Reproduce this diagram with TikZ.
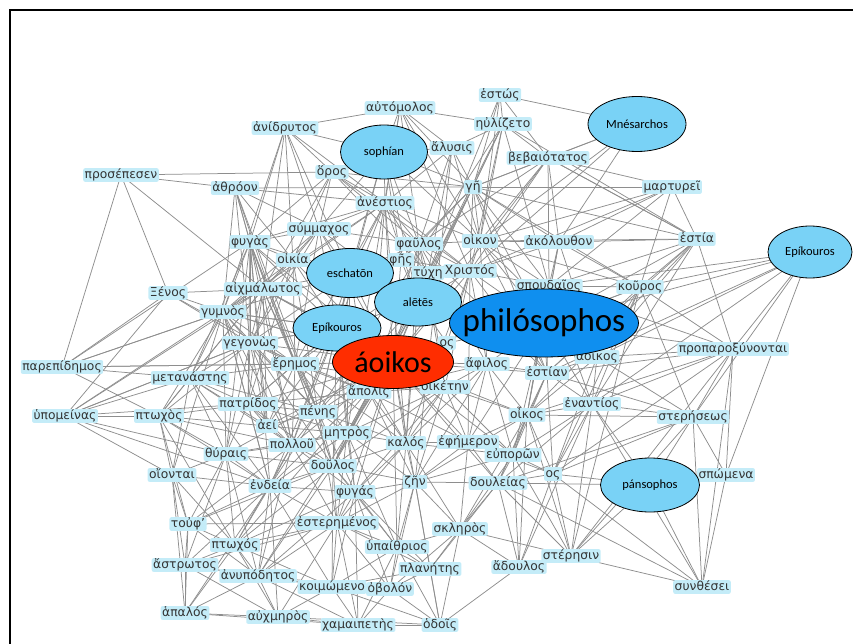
\documentclass[tikz,border=0pt]{standalone}
\usepackage{fontspec}
\setmainfont{DejaVu Sans}
\newfontfamily\ellfont{Carlito}
\usetikzlibrary{shapes.geometric}
\definecolor{wordfill}{HTML}{C4ECF8}
\definecolor{wordtext}{HTML}{333333}
\definecolor{linkgray}{HTML}{8E8E8E}
\definecolor{skyblue}{HTML}{79D2F6}
\definecolor{deepblue}{HTML}{0F8FEF}
\definecolor{redorange}{HTML}{FF2D00}
\pgfdeclarelayer{bg}
\pgfsetlayers{bg,main}

\tikzset{
  word/.style={fill=wordfill, text=wordtext, rounded corners=2pt,
    inner xsep=1.5pt, inner ysep=1pt, text height=9pt, text depth=2.8pt,
    font=\fontsize{12.3}{13}\selectfont},
  concept/.style={ellipse, draw=black, line width=0.8pt, fill=skyblue,
    inner sep=0pt, font=\ellfont\fontsize{12.5}{14}\selectfont},
  link/.style={draw=linkgray, line width=0.75pt}
}

\begin{document}
\begin{tikzpicture}[x=1pt, y=-1pt]
  \useasboundingbox (0,0) rectangle (853,644);
  \draw[line width=2.2pt] (10,644) -- (10,10) -- (853,10);

  % word nodes
  \node[word] (estos)     at (500,95)  {ἑστώς};
  \node[word] (automolos) at (400,108) {αὐτόμολος};
  \node[word] (euliz)     at (503,124) {ηὐλίζετο};
  \node[word] (anidr)     at (285,128) {ἀνίδρυτος};
  \node[word] (alysis)    at (452,148) {ἄλυσις};
  \node[word] (bebai)     at (548,158) {βεβαιότατος};
  \node[word] (oros)      at (332,172) {ὅρος};
  \node[word] (ge)        at (473,187) {γῆ};
  \node[word] (martyrei)  at (672,187) {μαρτυρεῖ};
  \node[word] (prosep)    at (121,175) {προσέπεσεν};
  \node[word] (athroon)   at (235,188) {ἀθρόον};
  \node[word] (anestios)  at (385,203) {ἀνέστιος};
  \node[word] (symm)      at (319,229) {σύμμαχος};
  \node[word] (phygas)    at (250,242) {φυγὰς};
  \node[word] (phaulos)   at (419,244) {φαῦλος};
  \node[word] (oikon)     at (480,241) {οἰκον};
  \node[word] (akol)      at (559,242) {ἀκόλουθον};
  \node[word] (hestia)    at (697,239) {ἑστία};
  \node[word] (oikia)     at (293,260) {οἰκία};
  \node[word] (phes)      at (401,260) {φῆς};
  \node[word] (tyche)     at (428,273) {τύχη};
  \node[word] (christos)  at (470,271) {Χριστός};
  \node[word] (spoud)     at (549,286) {σπουδαῖος};
  \node[word] (kouros)    at (640,287) {κοῦρος};
  \node[word] (aichm)     at (263,289) {αἰχμάλωτος};
  \node[word] (xenos)     at (168,293) {Ξένος};
  \node[word] (gymnos)    at (223,312) {γυμνὸς};
  \node[word] (gegonos)   at (250,343) {γεγονὼς};
  \node[word] (eremos)    at (295,364) {ἔρημος};
  \node[word] (parep)     at (62,367)  {παρεπίδημος};
  \node[word] (metan)     at (190,378) {μετανάστης};
  \node[word] (apolis)    at (369,392) {ἄπολις};
  \node[word] (hosA)      at (447,343) {ος};
  \node[word] (aphilos)   at (487,364) {ἄφιλος};
  \node[word] (hestian)   at (547,373) {ἑστίαν};
  \node[word] (oiketen)   at (445,387) {οἰκέτην};
  \node[word] (aoikosw)   at (597,357) {ἄοικος};
  \node[word] (propar)    at (733,349) {προπαροξύνονται};
  \node[word] (enantios)  at (592,404) {ἐναντίος};
  \node[word] (stereseos) at (693,417) {στερήσεως};
  \node[word] (hypom)     at (65,416)  {ὑπομείνας};
  \node[word] (ptochosA)  at (159,416) {πτωχὸς};
  \node[word] (patridos)  at (248,404) {πατρίδος};
  \node[word] (penes)     at (318,412) {πένης};
  \node[word] (oikos)     at (527,415) {οἶκος};
  \node[word] (aei)       at (267,426) {ἀεί};
  \node[word] (metros)    at (347,433) {μητρὸς};
  \node[word] (pollou)    at (292,445) {πολλοῦ};
  \node[word] (kalos)     at (406,443) {καλός};
  \node[word] (ephemeron) at (468,442) {ἐφήμερον};
  \node[word] (thyrais)   at (226,454) {θύραις};
  \node[word] (euporon)   at (513,455) {εὐπορῶν};
  \node[word] (oiontai)   at (172,475) {οἴονται};
  \node[word] (doulos)    at (333,466) {δοῦλος};
  \node[word] (hos)       at (553,474) {ος};
  \node[word] (endeia)    at (270,486) {ἐνδεία};
  \node[word] (zen)       at (415,482) {ζῆν};
  \node[word] (douleias)  at (498,483) {δουλείας};
  \node[word] (phygasB)   at (355,492) {φυγάς};
  \node[word] (spomena)   at (726,475) {σπώμενα};
  \node[word] (touph)     at (188,524) {τοὐφ'};
  \node[word] (esterem)   at (337,523) {ἐστερημένος};
  \node[word] (skleros)   at (460,529) {σκληρὸς};
  \node[word] (ptochosB)  at (235,545) {πτωχός};
  \node[word] (hypaith)   at (397,547) {ὑπαίθριος};
  \node[word] (steresin)  at (571,556) {στέρησιν};
  \node[word] (astrotos)  at (185,565) {ἄστρωτος};
  \node[word] (anypod)    at (258,576) {ἀνυπόδητος};
  \node[word] (planetes)  at (430,569) {πλανήτης};
  \node[word] (adoulos)   at (519,567) {ἄδουλος};
  \node[word] (koimom)    at (332,587) {κοιμώμενο};
  \node[word] (obolon)    at (390,589) {ὀβολόν};
  \node[word] (synthesei) at (702,587) {συνθέσει};
  \node[word] (hapalos)   at (185,613) {ἁπαλός};
  \node[word] (auchm)     at (278,617) {αὐχμηρὸς};
  \node[word] (chamai)    at (358,625) {χαμαιπετὴς};
  \node[word] (hodois)    at (440,625) {ὁδοῖς};

  % concept ellipses
  \node[concept, minimum width=87pt, minimum height=54pt] (sophian)  at (384,152) {sophían};
  \node[concept, minimum width=98pt, minimum height=55pt] (mnes)     at (637,124) {Mnésarchos};
  \node[concept, minimum width=84pt, minimum height=52pt] (epikR)    at (810,252) {Epíkouros};
  \node[concept, minimum width=87pt, minimum height=49pt] (eschaton) at (350,273) {eschatōn};
  \node[concept, minimum width=87pt, minimum height=48pt] (aletes)   at (418,302) {alētēs};
  \node[concept, minimum width=88pt, minimum height=46pt] (epikL)    at (337,328) {Epíkouros};
  \node[concept, minimum width=189pt, minimum height=68pt, fill=deepblue,
        label={[font=\ellfont\fontsize{33}{33}\selectfont]center:philósophos}] (philo) at (544,323) {};
  \node[concept, minimum width=121pt, minimum height=53pt, fill=redorange,
        label={[font=\ellfont\fontsize{30}{30}\selectfont]center:áoikos}] (aoikos) at (393,362) {};
  \node[concept, minimum width=99pt, minimum height=54pt] (pans)     at (650,485) {pánsophos};

  % links
  \begin{pgfonlayer}{bg}
  \foreach \s/\t in {
    prosep/{oros,athroon,parep,xenos,aichm},
    athroon/{anestios,phygas,gymnos,oikia,aichm,symm,eremos,penes,gegonos,ge},
    anidr/{sophian,oros,phygas,symm,aichm,gymnos,eschaton,anestios,automolos,oikia},
    automolos/{sophian,ge,phaulos,anestios,oikon,euliz,alysis,christos,metros},
    estos/{mnes,euliz,ge,oikon,bebai,tyche},
    euliz/{alysis,ge,oikon,bebai,christos,tyche,aletes,spoud,penes},
    alysis/{sophian,phaulos,ge,anestios,tyche,oikon,zen},
    bebai/{mnes,martyrei,akol,hestia,ge,christos,oikon,spoud,phaulos,aoikos},
    sophian/{oros,anestios,symm,phaulos,eschaton,ge,oikon,aletes,epikL,phes},
    oros/{symm,anestios,phygas,oikia,aichm,phaulos,tyche,christos,ge},
    ge/{oikon,phaulos,christos,tyche,martyrei,akol,aletes,hestian,kouros,spoud,philo,phes,doulos},
    martyrei/{akol,oikon,christos,hestia,spoud,kouros,ge},
    mnes/{ge,christos,akol,oikon},
    anestios/{symm,phaulos,oikon,eschaton,aletes,tyche,phygas,eremos,gymnos,aichm,christos,epikL,apolis,kalos},
    symm/{phygas,oikia,eschaton,aichm,gymnos,epikL,gegonos,phaulos,eremos},
    phygas/{oikia,aichm,gymnos,gegonos,eremos,eschaton,epikL,metan,patridos,penes,aei,pollou,thyrais,endeia,doulos,aoikos},
    phaulos/{oikon,christos,tyche,phes,aletes,aoikos,eschaton,apolis,oiketen,aphilos,kalos,hestian},
    oikon/{christos,akol,spoud,philo,aletes,hestia,aphilos,aoikosw,kouros,hestian},
    akol/{hestia,spoud,kouros,philo,christos,aoikosw,oikos},
    hestia/{kouros,spoud,aoikosw,hestian,enantios,oikos,philo,propar,bebai,euliz,ge},
    epikR/{kouros,spoud,propar,stereseos,aoikosw,hestian,enantios,spomena,philo},
    oikia/{aichm,eschaton,gymnos,gegonos,epikL,eremos,aoikos,patridos,penes},
    phes/{aletes,eschaton,tyche,christos,aoikos},
    tyche/{christos,aletes,aoikos,apolis,eremos,oiketen},
    christos/{spoud,aletes,philo,aphilos,aoikos,hosA,oiketen,hestian,kalos,ephemeron},
    spoud/{kouros,philo,aoikosw,hestian,enantios,propar,oikos},
    kouros/{philo,aoikosw,propar,stereseos,enantios,hestian,hos,steresin},
    aichm/{xenos,gymnos,gegonos,eremos,epikL,metan,patridos,aoikos,penes,aei,pollou,ptochosA,hypom},
    xenos/{gegonos,parep,eremos,gymnos,hypom},
    gymnos/{gegonos,eremos,metan,patridos,hypom,parep,ptochosA,aei,epikL,thyrais,endeia,aoikos,penes,pollou,oiontai},
    gegonos/{eremos,metan,patridos,hypom,ptochosA,epikL,aoikos,penes,aei,apolis,pollou,thyrais,doulos},
    eremos/{epikL,aoikos,apolis,metan,patridos,penes,parep,aei,metros,pollou,doulos,kalos,oiketen},
    parep/{metan,eremos,gymnos,phygas,ptochosA},
    metan/{patridos,hypom,ptochosA,aei,penes,pollou,thyrais,endeia,oiontai},
    hypom/{ptochosA,patridos,gegonos,endeia,thyrais,oiontai},
    ptochosA/{patridos,thyrais,oiontai,endeia,pollou,aei,touph,ptochosB},
    patridos/{aei,penes,pollou,thyrais,metros,doulos,endeia,apolis,aoikos},
    penes/{apolis,aoikos,metros,pollou,doulos,kalos,aei,phygasB,endeia,esterem},
    apolis/{aoikos,oiketen,metros,kalos,doulos,zen,ephemeron,aphilos},
    aoikos/{oiketen,aphilos,hosA,epikL,aletes,eschaton,metros,kalos,doulos,pollou,ephemeron,zen,phygasB,hestian,oikos,euporon,douleias,esterem,gymnos,aichm,aei,endeia,thyrais,anestios,symm,hypaith,ptochosB,anypod},
    aletes/{eschaton,epikL,philo,hosA,penes,metros,kalos,doulos,oikia,symm},
    eschaton/{epikL,gymnos,aichm,gegonos,penes,pollou,metros,doulos,apolis},
    epikL/{eremos,apolis,gegonos,gymnos,patridos,aei,pollou,metros,penes,doulos,endeia,kalos,phygasB},
    philo/{aoikosw,hestian,aphilos,hosA,enantios,oikos,propar,kouros,euporon,ephemeron},
    aoikosw/{propar,hestian,enantios,oikos,stereseos,hos},
    propar/{enantios,stereseos,spomena,synthesei,oikos,hos,steresin,hestian},
    hestian/{enantios,oikos,euporon,aphilos,hos,douleias,stereseos},
    aphilos/{oiketen,oikos,kalos,ephemeron,euporon,zen},
    oiketen/{kalos,ephemeron,oikos,zen,metros,euporon,doulos,phygasB},
    enantios/{oikos,stereseos,hos,pans,synthesei,euporon,douleias,steresin,adoulos},
    stereseos/{pans,spomena,synthesei,hos,steresin,oikos,douleias},
    oikos/{ephemeron,euporon,hos,douleias,zen,skleros,steresin,adoulos},
    metros/{pollou,doulos,kalos,zen,phygasB,endeia,esterem,aei,thyrais,hypaith},
    pollou/{aei,doulos,thyrais,endeia,phygasB,esterem,ptochosB,touph,anypod},
    kalos/{ephemeron,zen,doulos,phygasB,skleros,hypaith,euporon,esterem},
    ephemeron/{euporon,zen,douleias,skleros,hos},
    euporon/{hos,douleias,zen,skleros,adoulos,steresin},
    thyrais/{oiontai,endeia,touph,ptochosB,astrotos,doulos,anypod},
    oiontai/{touph,astrotos,hapalos,endeia,ptochosB},
    doulos/{endeia,phygasB,zen,esterem,hypaith,ptochosB,anypod,koimom,touph},
    hos/{pans,douleias,steresin,synthesei,adoulos},
    endeia/{phygasB,touph,ptochosB,esterem,astrotos,anypod,koimom,auchm,hapalos},
    zen/{douleias,skleros,hypaith,planetes,phygasB,esterem,obolon,hodois},
    douleias/{skleros,adoulos,steresin,pans,synthesei,planetes},
    phygasB/{esterem,hypaith,ptochosB,anypod,koimom,obolon,planetes,chamai},
    pans/{steresin,synthesei,spomena},
    spomena/{synthesei},
    touph/{ptochosB,astrotos,hapalos,anypod,esterem},
    esterem/{ptochosB,hypaith,anypod,koimom,obolon,planetes,auchm,chamai,astrotos},
    skleros/{hypaith,planetes,obolon,hodois,adoulos,steresin},
    ptochosB/{astrotos,anypod,hapalos,koimom,auchm},
    hypaith/{planetes,obolon,koimom,hodois,chamai},
    steresin/{adoulos,synthesei},
    astrotos/{anypod,hapalos,auchm,koimom},
    anypod/{koimom,hapalos,auchm,chamai,obolon},
    planetes/{obolon,hodois,koimom},
    adoulos/{hodois},
    koimom/{obolon,auchm,chamai,hodois},
    obolon/{chamai,hodois},
    hapalos/{auchm,chamai},
    auchm/{chamai,hodois},
    chamai/{hodois}}
    {\foreach \d in \t {\draw[link] (\s.center) -- (\d.center);}}
  \end{pgfonlayer}
\end{tikzpicture}
\end{document}
